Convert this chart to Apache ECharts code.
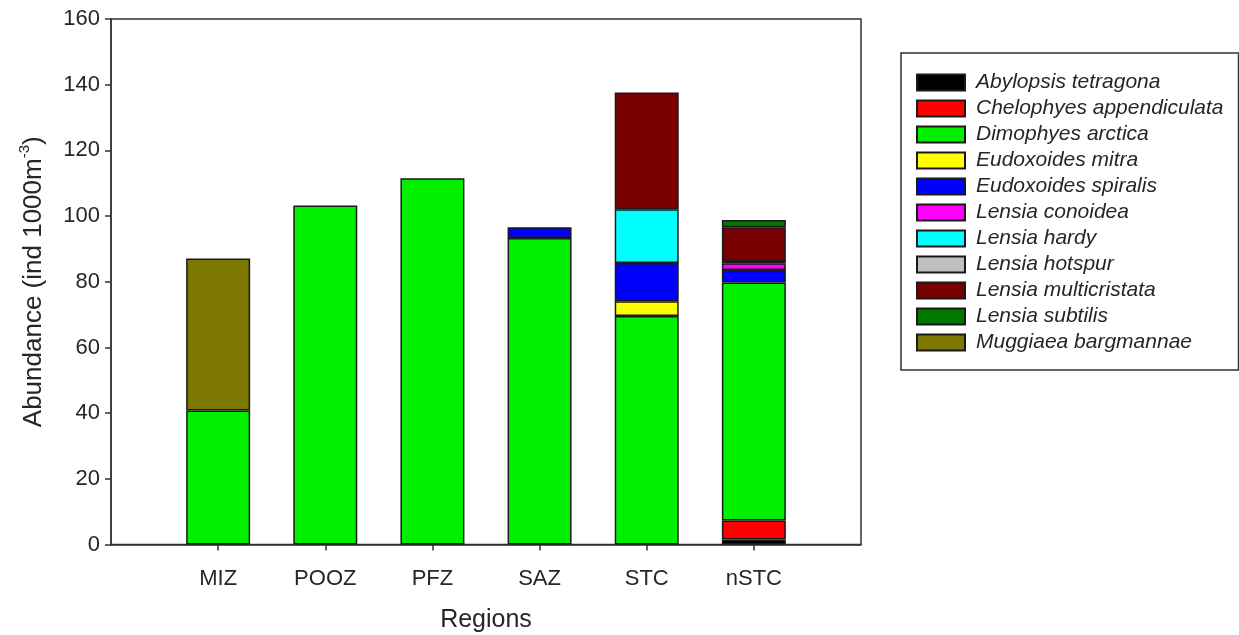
<!DOCTYPE html>
<html>
<head>
<meta charset="utf-8">
<script src="https://cdn.jsdelivr.net/npm/echarts@6/dist/echarts.min.js"></script>
<style>
  html, body { margin: 0; padding: 0; background: #fff; }
  #chart { width: 1239px; height: 635px; }
</style>
</head>
<body>
<div id="chart"></div>
<script>
// Regions along the x axis
const regions = ['MIZ', 'POOZ', 'PFZ', 'SAZ', 'STC', 'nSTC'];

// Abundance per species (ind 1000 m^-3), one value per region
const abylopsisTetragona      = [0, 0, 0, 0, 0, 1.5];
const chelophyesAppendiculata = [0, 0, 0, 0, 0, 5.8];
const dimophyesArctica        = [40.8, 103.2, 111.5, 93.3, 69.6, 72.5];
const eudoxoidesMitra         = [0, 0, 0, 0, 4.5, 0];
const eudoxoidesSpiralis      = [0, 0, 0, 3.3, 11.6, 3.8];
const lensiaConoidea          = [0, 0, 0, 0, 0, 2.0];
const lensiaHardy             = [0, 0, 0, 0, 16.4, 0];
const lensiaHotspur           = [0, 0, 0, 0, 0, 0.7];
const lensiaMulticristata     = [0, 0, 0, 0, 35.5, 10.3];
const lensiaSubtilis          = [0, 0, 0, 0, 0, 2.2];
const muggiaeaBargmannae      = [46.3, 0, 0, 0, 0, 0];

// y axis ticks
const yTicks = { min: 0, max: 160, interval: 20 };

const species = [
  { name: 'Abylopsis tetragona',      values: abylopsisTetragona,      color: '#000000' },
  { name: 'Chelophyes appendiculata', values: chelophyesAppendiculata, color: '#ff0000' },
  { name: 'Dimophyes arctica',        values: dimophyesArctica,        color: '#00f000' },
  { name: 'Eudoxoides mitra',         values: eudoxoidesMitra,         color: '#ffff00' },
  { name: 'Eudoxoides spiralis',      values: eudoxoidesSpiralis,      color: '#0000ff' },
  { name: 'Lensia conoidea',          values: lensiaConoidea,          color: '#ff00ff' },
  { name: 'Lensia hardy',             values: lensiaHardy,             color: '#00ffff' },
  { name: 'Lensia hotspur',           values: lensiaHotspur,           color: '#c0c0c0' },
  { name: 'Lensia multicristata',     values: lensiaMulticristata,     color: '#780000' },
  { name: 'Lensia subtilis',          values: lensiaSubtilis,          color: '#007800' },
  { name: 'Muggiaea bargmannae',      values: muggiaeaBargmannae,      color: '#7c7800' }
];

// Blank slots at both ends leave a gap of one step before the first and after the last bar
const axisCategories = [''].concat(regions, ['']);

const FONT = '"Liberation Sans", Arial, sans-serif';
const INK = '#262626';

const chart = echarts.init(document.getElementById('chart'), null, { renderer: 'canvas' });

chart.setOption({
  animation: false,
  backgroundColor: '#ffffff',
  textStyle: { fontFamily: FONT, color: INK },
  grid: {
    left: 111, top: 19, right: 378, bottom: 90.5,
    outerBoundsMode: 'none',
    containLabel: false,
    show: true, borderColor: '#333', borderWidth: 1.5, backgroundColor: 'transparent'
  },
  legend: {
    orient: 'vertical',
    left: 901, top: 53,
    padding: [19, 15, 17, 15],
    backgroundColor: '#fff',
    borderColor: '#333',
    borderWidth: 1.5,
    itemWidth: 48,
    itemHeight: 16,
    itemGap: 5,
    icon: 'rect',
    selectedMode: false,
    textStyle: {
      fontFamily: FONT, fontSize: 21, fontStyle: 'italic', color: INK,
      lineHeight: 21, padding: [0, 0, 0, 6]
    },
    data: species.map(s => s.name)
  },
  xAxis: {
    type: 'category',
    data: axisCategories,
    boundaryGap: false,
    name: 'Regions',
    nameLocation: 'middle',
    nameGap: 63,
    nameTextStyle: { fontFamily: FONT, fontSize: 25, color: INK },
    axisLine: { show: true, lineStyle: { color: '#333', width: 1.5 } },
    axisTick: {
      show: true, length: 6, inside: false,
      interval: (i) => i > 0 && i < axisCategories.length - 1,
      lineStyle: { color: '#333', width: 1.5 }
    },
    axisLabel: { fontFamily: FONT, fontSize: 22, color: INK, margin: 23, interval: 0 },
    splitLine: { show: false }
  },
  yAxis: {
    type: 'value',
    min: yTicks.min, max: yTicks.max, interval: yTicks.interval,
    name: '{a|Abundance (ind 1000m}{s|-3}{a|)}',
    nameLocation: 'middle',
    nameGap: 64,
    nameRotate: 90,
    nameTextStyle: {
      rich: {
        a: { fontFamily: FONT, fontSize: 26, color: INK, lineHeight: 30, verticalAlign: 'bottom' },
        s: { fontFamily: FONT, fontSize: 15, color: INK, lineHeight: 30, verticalAlign: 'top' }
      }
    },
    axisLine: { show: true, lineStyle: { color: '#333', width: 1.5 } },
    axisTick: { show: true, length: 6, inside: false, lineStyle: { color: '#333', width: 1.5 } },
    axisLabel: { fontFamily: FONT, fontSize: 22, color: INK, margin: 11 },
    splitLine: { show: false }
  },
  series: species.map(s => ({
    name: s.name,
    type: 'bar',
    stack: 'total',
    barWidth: 64,
    itemStyle: { color: s.color, borderColor: '#1a1a1a', borderWidth: 1.5 },
    emphasis: { disabled: true },
    data: [null].concat(s.values.map(v => (v > 0 ? v : null)), [null])
  }))
});
</script>
</body>
</html>
